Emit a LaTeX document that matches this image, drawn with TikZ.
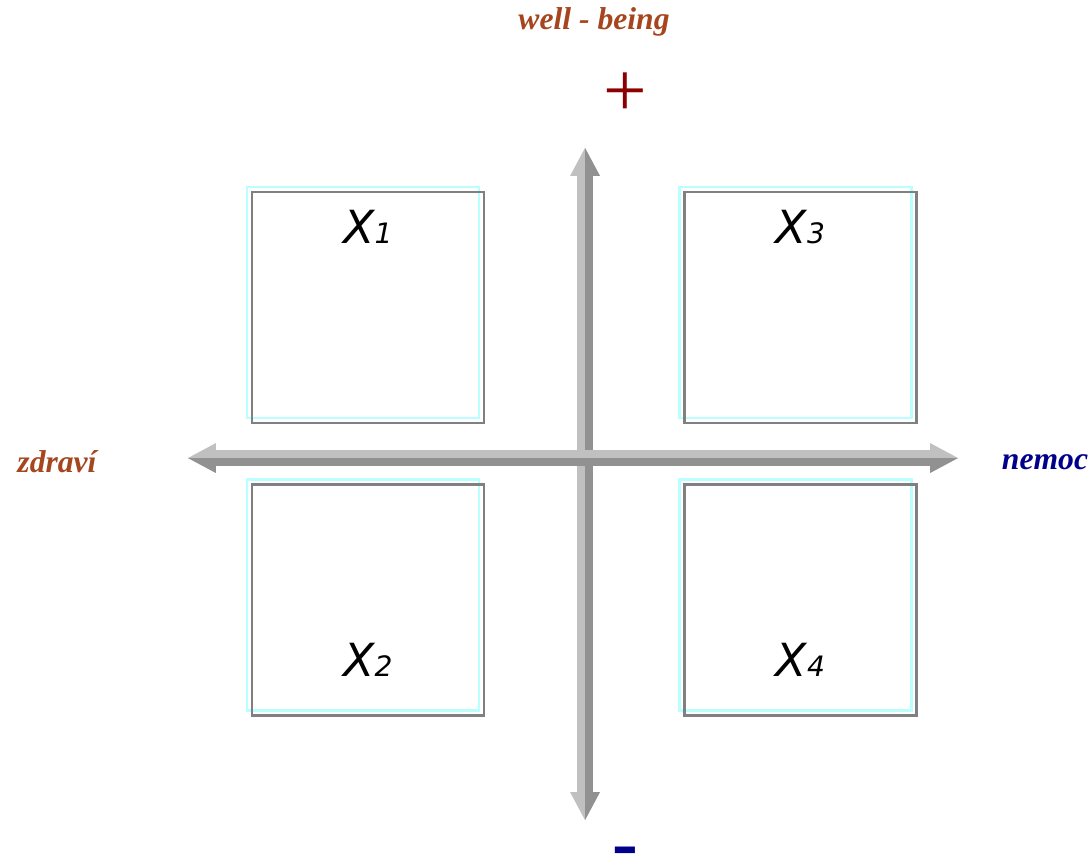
\documentclass[tikz,border=0pt]{standalone}
\usepackage{fontspec}
\setmainfont{Liberation Serif}
\newfontfamily\quadfont{DejaVu Sans}
\usetikzlibrary{arrows.meta,positioning,calc}
\definecolor{wbbrown}{RGB}{165,70,30}
\definecolor{wbred}{RGB}{139,0,0}
\definecolor{wbblue}{RGB}{0,0,139}
\definecolor{wbgray}{RGB}{128,128,128}
\definecolor{wbcyan}{RGB}{185,255,255}
\definecolor{axislight}{RGB}{192,192,192}
\definecolor{axisdark}{RGB}{145,145,145}
\tikzset{
  quad/.style={
    rectangle, draw=wbgray, line width=1.2pt, inner sep=0pt,
    minimum width=4.64cm, minimum height=4.62cm
  },
  quadshade/.style={
    quad, draw=wbcyan, line width=1.3pt
  },
  qlabel/.style={
    font=\quadfont\itshape\fontsize{26}{26}\selectfont,
    anchor=base, inner sep=0pt
  },
  axislabel/.style={
    font=\bfseries\itshape\fontsize{18}{18}\selectfont, text=wbbrown
  },
  axis/.style={
    line width=0.32cm, color=axislight,
    {Triangle[length=0.56cm,width=0.6cm,line width=0pt]}-{Triangle[length=0.56cm,width=0.6cm,line width=0pt]}
  },
  axisD/.style={axis, color=axisdark},
  sign/.style={font=\fontsize{44}{44}\selectfont, inner sep=0pt}
}
\begin{document}
\begin{tikzpicture}[x=0.02cm, y=-0.02cm]
  \useasboundingbox (0,0) rectangle (1092,868);

  % labels
  \node[axislabel]              (wb)    at (594,22)   {well - being};
  \node[sign, text=wbred]       (plus)  at (625,95)   {+};
  \node[sign, text=wbblue, font=\bfseries\fontsize{44}{44}\selectfont]
                                (minus) at (625,858)  {-};
  \node[axislabel]              (zd)    at (57,462)   {zdraví};
  \node[axislabel, text=wbblue] (nm)    at (1045,462) {nemoc};

  % quadrants
  \foreach \n/\cx/\cy in {1/368/307.5, 2/368/600, 3/800.5/307.5, 4/800.5/600}{
    \node[quadshade] (s\n) at (\cx-5,\cy-5) {};
    \node[quad]      (q\n) at (\cx,\cy)     {};
  }
  \node[qlabel] (x1) at ([yshift=-1.06cm]q1.north) {X{\fontsize{16}{16}\selectfont 1}};
  \node[qlabel] (x2) at ([yshift=0.8cm]q2.south)   {X{\fontsize{16}{16}\selectfont 2}};
  \node[qlabel] (x3) at ([yshift=-1.06cm]q3.north) {X{\fontsize{16}{16}\selectfont 3}};
  \node[qlabel] (x4) at ([yshift=0.8cm]q4.south)   {X{\fontsize{16}{16}\selectfont 4}};

  % axes
  \coordinate (up)   at (585,148);
  \coordinate (down) at (585,820);
  \coordinate (west) at (188,458);
  \coordinate (east) at (958,458);
  \draw[axis] (down) -- (up);
  \begin{scope}
    \clip (585,0) rectangle (700,868);
    \draw[axisD] (down) -- (up);
  \end{scope}
  \draw[axis] (west) -- (east);
  \begin{scope}
    \clip (0,458) rectangle (1092,520);
    \draw[axisD] (west) -- (east);
  \end{scope}
\end{tikzpicture}
\end{document}
